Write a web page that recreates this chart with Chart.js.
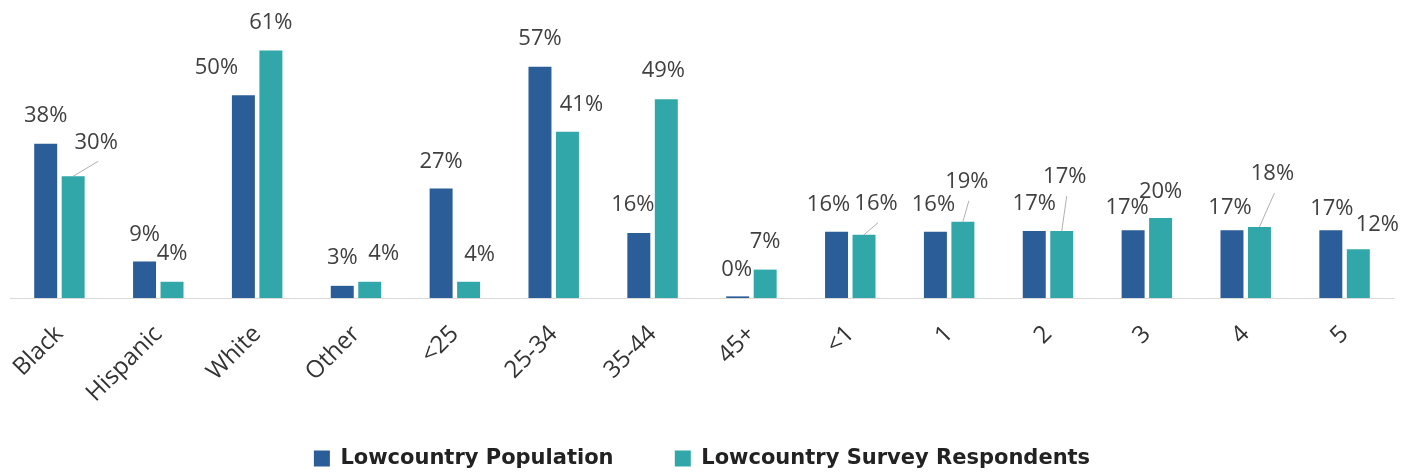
<!DOCTYPE html>
<html>
<head>
<meta charset="utf-8">
<script src="https://cdn.jsdelivr.net/npm/chart.js@4.4.1/dist/chart.umd.min.js"></script>
<style>
    html, body { margin: 0; padding: 0; background: #fff; }
    #wrap { width: 1408px; height: 474px; position: relative; }
</style>
</head>
<body>
<div id="wrap"><canvas id="chart"></canvas></div>
<script>
// Data
const categories = ['Black', 'Hispanic', 'White', 'Other', '<25', '25-34', '35-44', '45+', '<1', '1', '2', '3', '4', '5'];
const population = [38, 9, 50, 3, 27, 57, 16, 0.4, 16.3, 16.3, 16.5, 16.7, 16.7, 16.7];
const respondents = [30, 4, 61, 4, 4, 41, 49, 7, 15.6, 18.8, 16.5, 19.7, 17.5, 12];
const seriesNames = ['Lowcountry Population', 'Lowcountry Survey Respondents'];

// Label placement (dx, dy from bar top centre) and leader lines, per series
const labelOffsets = [
    [[0, -28], [0, -27], [-27, -27], [0, -28], [0, -27], [0, -28], [-6, -28], [-1, -27],
     [-8, -27], [-2, -27], [0, -27], [-6, -23], [-2, -23], [1, -22]],
    [[23, -34], [0, -28], [0, -28], [14, -28], [11, -27], [14, -27], [-3, -28], [0, -28],
     [12, -31], [4, -40], [3, -54], [0, -26], [13, -53], [19, -25]]
];
const leaders = [
    [],
    [0, 8, 9, 10, 12]
];

const COLORS = ['#2b5d99', '#32a7a9'];

const valueLabels = {
    id: 'valueLabels',
    afterDatasetsDraw(chart) {
        const ctx = chart.ctx;
        ctx.save();
        ctx.font = '22px "Open Sans"';
        ctx.fillStyle = '#404040';
        ctx.textAlign = 'center';
        ctx.textBaseline = 'middle';
        chart.data.datasets.forEach((ds, di) => {
            const meta = chart.getDatasetMeta(di);
            meta.data.forEach((bar, i) => {
                const [dx, dy] = labelOffsets[di][i];
                const lx = bar.x + dx, ly = bar.y + dy;
                ctx.fillText(Math.round(ds.data[i]) + '%', lx, ly);
                if (leaders[di].includes(i)) {
                    ctx.beginPath();
                    ctx.strokeStyle = '#b0b0b0';
                    ctx.lineWidth = 1;
                    ctx.moveTo(bar.x, bar.y);
                    ctx.lineTo(lx + 2, ly + 19);
                    ctx.stroke();
                }
            });
        });
        ctx.restore();
    }
};

Chart.defaults.font.family = '"Open Sans", sans-serif';

new Chart(document.getElementById('chart'), {
    type: 'bar',
    data: {
        labels: categories,
        datasets: [
            { label: seriesNames[0], data: population, backgroundColor: COLORS[0] },
            { label: seriesNames[1], data: respondents, backgroundColor: COLORS[1] }
        ]
    },
    options: {
        responsive: true,
        maintainAspectRatio: false,
        animation: false,
        categoryPercentage: 0.556,
        barPercentage: 0.836,
        layout: { padding: { left: 10, right: 14, top: 14, bottom: -5 } },
        plugins: {
            tooltip: { enabled: false },
            legend: {
                position: 'bottom',
                labels: {
                    boxWidth: 16,
                    boxHeight: 16,
                    padding: 32,
                    color: '#222',
                    font: { family: '"DejaVu Sans", sans-serif', size: 21, weight: 'bold' },
                    // extra trailing space widens the gap between the two items
                    generateLabels: (chart) => Chart.defaults.plugins.legend.labels.generateLabels(chart)
                        .map((item, i) => ({ ...item, text: i === 0 ? item.text + '    ' : item.text }))
                }
            }
        },
        scales: {
            y: { display: false, min: 0, max: 70 },
            x: {
                grid: { display: false },
                border: { display: true, color: '#d9d9d9', width: 1 },
                ticks: { color: '#333', font: { size: 24 }, minRotation: 45, maxRotation: 45, padding: 14 },
                afterFit: (scale) => { scale.height = 118; }
            }
        }
    },
    plugins: [valueLabels]
});
</script>
</body>
</html>
